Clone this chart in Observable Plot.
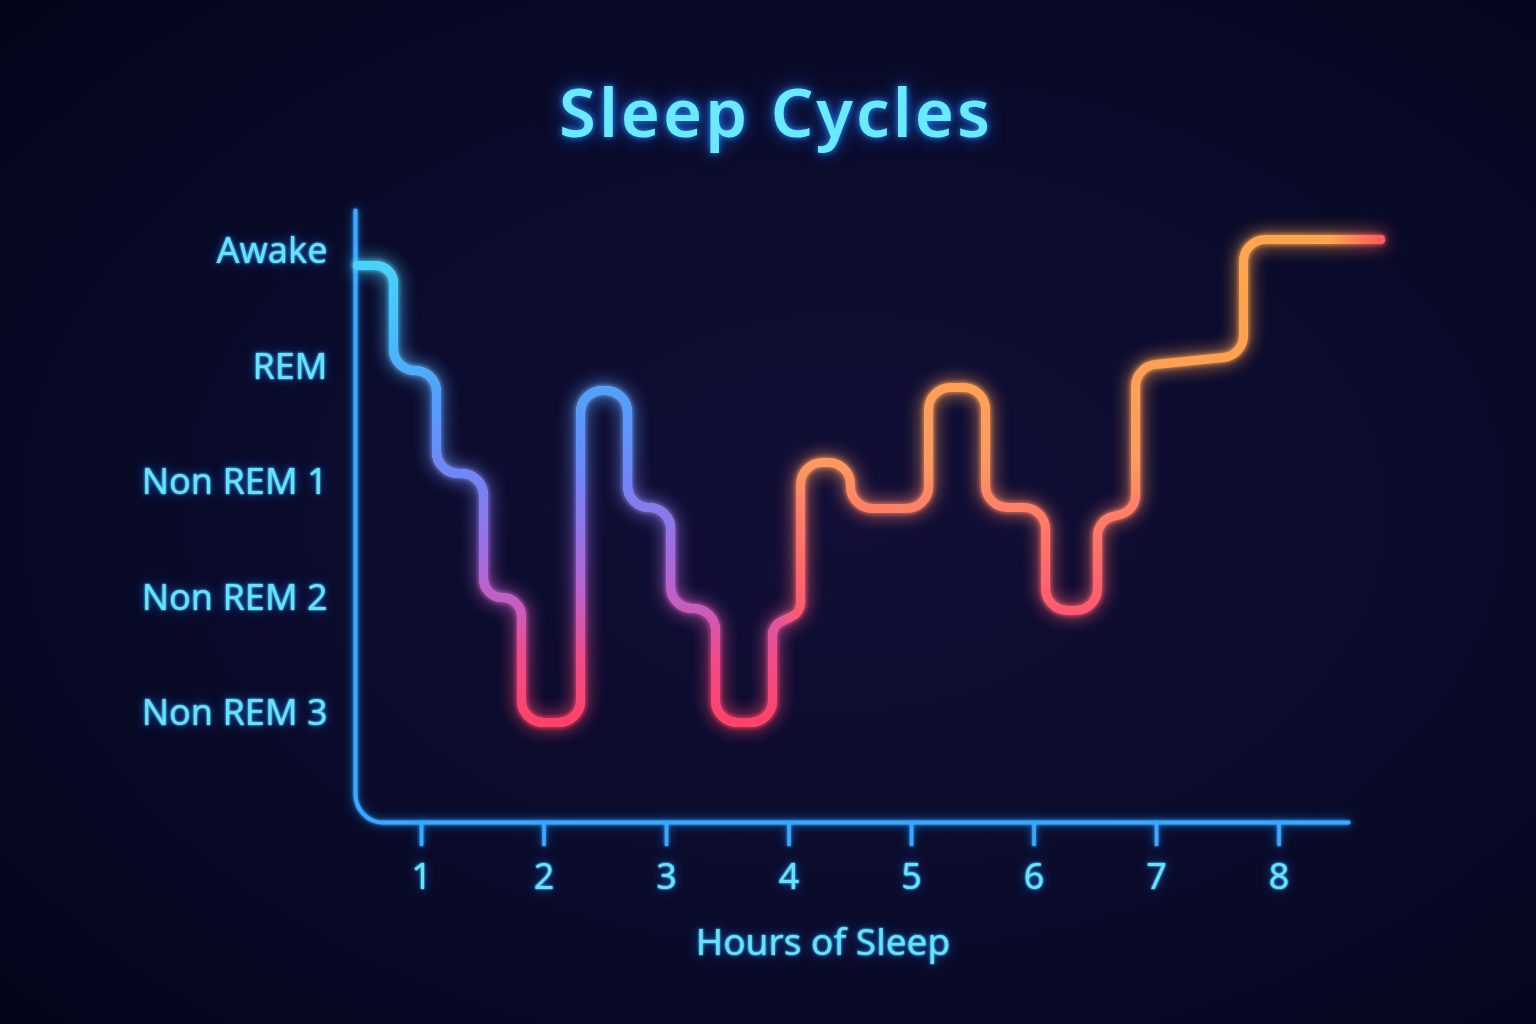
<!DOCTYPE html>
<html>
<head>
<meta charset="utf-8">
<script src="https://cdn.jsdelivr.net/npm/d3@7"></script>
<script src="https://cdn.jsdelivr.net/npm/@observablehq/plot@0.6"></script>
<style>
  html, body { margin: 0; padding: 0; width: 1536px; height: 1024px; overflow: hidden; }
  body {
    background: radial-gradient(ellipse 75% 75% at 55% 50%, #120f38 0%, #0a0b2a 55%, #03051a 100%);
    font-family: "Noto Sans", "DejaVu Sans", sans-serif;
  }
  #header { position: relative; height: 190px; }
  #title {
    position: absolute; left: 16px; width: 1520px; top: 78px;
    text-align: center; font-size: 67px; line-height: 67px; font-weight: 600; letter-spacing: 3px;
    color: #6aeaff;
    text-shadow: 0 0 6px rgba(40,150,255,0.9), 0 0 18px rgba(30,110,255,0.7);
  }
  #chart svg { display: block; }
</style>
</head>
<body>
<div id="header"><div id="title">Sleep Cycles</div></div>
<div id="chart"></div>
<script>
// ---- data: hypnogram as step corners (hours, stage level; 0 = Non REM 3 ... 4 = Awake) ----
const hours  = [0.478, 0.771, 0.771, 1.122, 1.122, 1.506, 1.506, 1.816, 1.816, 2.298,
                2.298, 2.682, 2.682, 3.033, 3.033, 3.400, 3.400, 3.865, 3.865, 4.094,
                4.094, 4.502, 4.502, 5.139, 5.139, 5.604, 5.604, 6.094, 6.094, 6.518,
                6.518, 6.829, 6.829, 7.710, 7.710, 8.829];
const stages = [3.879, 3.879, 2.970, 2.970, 2.078, 2.078, 1.004, 1.004, -0.078, -0.078,
                2.797, 2.797, 1.784, 1.784, 0.909, 0.909, -0.078, -0.078, 0.762, 0.874,
                2.173, 2.173, 1.775, 1.775, 2.823, 2.823, 1.784, 1.784, 0.892, 0.892,
                1.671, 1.758, 3.004, 3.100, 4.104, 4.104];
const stageTicks  = [0, 1, 2, 3, 4];
const stageLabels = ["Non REM 3", "Non REM 2", "Non REM 1", "REM", "Awake"];
const hourTicks   = [1, 2, 3, 4, 5, 6, 7, 8];
const xDomain = [0.461, 8.567];
const yDomain = [-0.944, 4.355];
const xTitle = "Hours of Sleep";

// ---- styles ----
const textColor = "#62e4ff";
const axisColor = "#3aa9ff";
const endColor = "#ff5d5d";
const leftStops = [[3.9, "#46d4ff"], [3.0, "#4ab0ff"], [2.8, "#4fa2ff"], [2.05, "#6f86f8"],
                   [1.5, "#9870e6"], [1.0, "#c060c8"], [0.5, "#ee4c8c"], [-0.1, "#ff4266"]];
const rightStops = [[4.15, "#ffa64e"], [3.0, "#ffa052"], [2.8, "#ffa058"], [2.17, "#ff9a60"],
                    [1.78, "#ff8066"], [0.9, "#ff5a70"], [-0.1, "#ff4466"]];

// custom curve: straight segments joined by rounded corners
function roundedStep(radius) {
  return function(context) {
    let pts = [];
    return {
      areaStart() {}, areaEnd() {},
      lineStart() { pts = []; },
      point(x, y) { pts.push([+x, +y]); },
      lineEnd() {
        if (!pts.length) return;
        context.moveTo(pts[0][0], pts[0][1]);
        for (let i = 1; i < pts.length - 1; i++) {
          const [x0, y0] = pts[i - 1], [x1, y1] = pts[i], [x2, y2] = pts[i + 1];
          const l1 = Math.hypot(x1 - x0, y1 - y0), l2 = Math.hypot(x2 - x1, y2 - y1);
          const r = Math.min(radius, l1 / 2, l2 / 2);
          context.arcTo(x1, y1, x2, y2, r);
        }
        const n = pts.length - 1;
        context.lineTo(pts[n][0], pts[n][1]);
      }
    };
  };
}

const data = hours.map((h, i) => ({hour: h, stage: stages[i]}));
const axisPath = [
  {hour: xDomain[0], stage: yDomain[1]},
  {hour: xDomain[0], stage: yDomain[0]},
  {hour: xDomain[1], stage: yDomain[0]}
];

const W = 1536, H = 834;
const lineOpts = {x: "hour", y: "stage", curve: roundedStep(22), strokeWidth: 9, strokeLinecap: "round", strokeLinejoin: "round"};

const plot = Plot.plot({
  width: W, height: H,
  marginTop: 20, marginBottom: 202, marginLeft: 355, marginRight: 188,
  style: {background: "transparent", fontFamily: "'Noto Sans', 'DejaVu Sans', sans-serif", fontSize: "36px", color: textColor, fontWeight: 400},
  x: {domain: xDomain, label: null},
  y: {domain: yDomain, label: null},
  marks: [
    Plot.line(axisPath, {x: "hour", y: "stage", curve: roundedStep(28), stroke: axisColor, strokeWidth: 4, strokeLinecap: "round"}),
    Plot.axisX({ticks: hourTicks, tickSize: 24, tickPadding: 17, stroke: axisColor, strokeWidth: 3.5, fill: textColor, label: null}),
    Plot.axisY({ticks: stageTicks, tickFormat: d => stageLabels[d], tickSize: 0, tickPadding: 28, fill: textColor, label: null}),
    Plot.text([xTitle], {text: d => d, frameAnchor: "bottom", dx: -29, dy: 132, fill: textColor, fontSize: 37}),
    Plot.line(data, {...lineOpts, stroke: "url(#gradRight)"}),
    Plot.line(data, {...lineOpts, stroke: "url(#gradLeft)"}),
    Plot.line(data, {...lineOpts, stroke: endColor})
  ]
});
document.getElementById("chart").appendChild(plot);

// ---- post styling: gradients, masks, glow ----
const svg = d3.select(plot);
const xs = plot.scale("x"), ys = plot.scale("y");
const defs = svg.insert("defs", ":first-child");

function vGrad(id, stops) {
  const y1 = ys.apply(stops[0][0]), y2 = ys.apply(stops[stops.length - 1][0]);
  const g = defs.append("linearGradient").attr("id", id).attr("gradientUnits", "userSpaceOnUse")
    .attr("x1", 0).attr("x2", 0).attr("y1", y1).attr("y2", y2);
  stops.forEach(([v, c]) => g.append("stop").attr("offset", (ys.apply(v) - y1) / (y2 - y1)).attr("stop-color", c));
}
vGrad("gradLeft", leftStops);
vGrad("gradRight", rightStops);

function hMask(id, h1, c1, h2, c2) {
  const g = defs.append("linearGradient").attr("id", id + "G").attr("gradientUnits", "userSpaceOnUse")
    .attr("x1", xs.apply(h1)).attr("x2", xs.apply(h2)).attr("y1", 0).attr("y2", 0);
  g.append("stop").attr("offset", 0).attr("stop-color", c1);
  g.append("stop").attr("offset", 1).attr("stop-color", c2);
  defs.append("mask").attr("id", id).attr("maskUnits", "userSpaceOnUse")
    .attr("x", -50).attr("y", -50).attr("width", W + 100).attr("height", H + 100)
    .append("rect").attr("x", -50).attr("y", -50).attr("width", W + 100).attr("height", H + 100)
    .attr("fill", `url(#${id}G)`);
}
hMask("maskLeft", 3.85, "white", 4.07, "black");
hMask("maskEnd", 8.42, "black", 8.81, "white");

function glow(id, sd1, sd2, floodColor) {
  const f = defs.append("filter").attr("id", id).attr("filterUnits", "userSpaceOnUse")
    .attr("x", -50).attr("y", -50).attr("width", W + 100).attr("height", H + 100);
  if (floodColor) {
    f.append("feGaussianBlur").attr("in", "SourceAlpha").attr("stdDeviation", sd1).attr("result", "b1");
    f.append("feFlood").attr("flood-color", floodColor).attr("flood-opacity", 0.85).attr("result", "fl");
    f.append("feComposite").attr("in", "fl").attr("in2", "b1").attr("operator", "in").attr("result", "g1");
  } else {
    f.append("feGaussianBlur").attr("in", "SourceGraphic").attr("stdDeviation", sd1).attr("result", "g1");
  }
  f.append("feGaussianBlur").attr("in", "SourceGraphic").attr("stdDeviation", sd2).attr("result", "g2");
  const m = f.append("feMerge");
  m.append("feMergeNode").attr("in", "g1");
  m.append("feMergeNode").attr("in", "g2");
  m.append("feMergeNode").attr("in", "SourceGraphic");
}
glow("glowLine", 9, 2.5);
glow("glowAxis", 5, 1.5, "#1f8cff");
glow("glowText", 5, 1.2, "#1670ff");

const lines = svg.selectAll('g[aria-label="line"]').nodes();
d3.select(lines[0]).attr("filter", "url(#glowAxis)");
const wrap = d3.select(lines[1].parentNode).insert("g", () => lines[1]).attr("filter", "url(#glowLine)");
[lines[1], lines[2], lines[3]].forEach(n => wrap.node().appendChild(n));
d3.select(lines[2]).attr("mask", "url(#maskLeft)");
d3.select(lines[3]).attr("mask", "url(#maskEnd)");

svg.selectAll('g[aria-label="x-axis tick"]').attr("filter", "url(#glowAxis)");
svg.selectAll('g[aria-label="x-axis tick label"], g[aria-label="y-axis tick label"], g[aria-label="text"]').attr("filter", "url(#glowText)");
</script>
</body>
</html>
